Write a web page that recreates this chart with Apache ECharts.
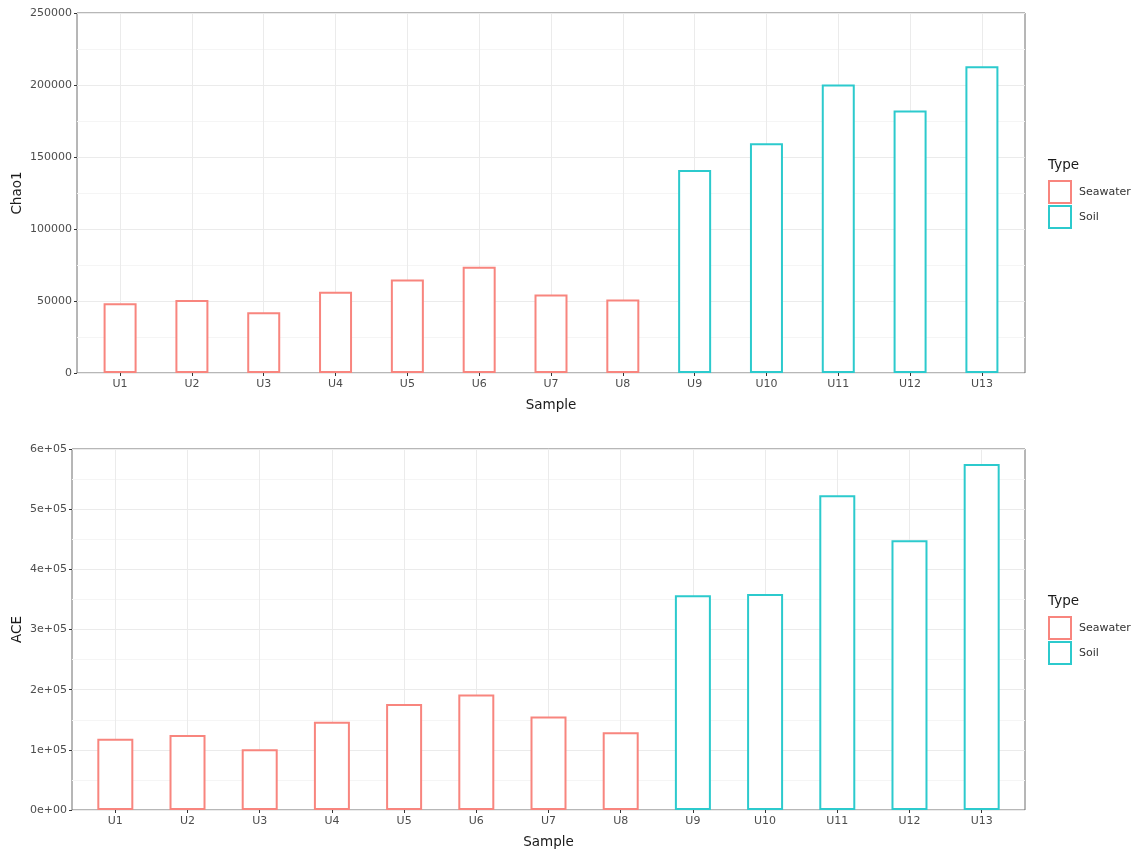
<!DOCTYPE html>
<html>
<head>
<meta charset="utf-8">
<script src="https://cdn.jsdelivr.net/npm/echarts@6/dist/echarts.min.js"></script>
<style>html,body{margin:0;padding:0;background:#fff;}#c{width:1140px;height:849px;}</style>
</head>
<body>
<div id="c"></div>
<script>
const categories = ['U1','U2','U3','U4','U5','U6','U7','U8','U9','U10','U11','U12','U13'];
const types = ['Seawater','Seawater','Seawater','Seawater','Seawater','Seawater','Seawater','Seawater','Soil','Soil','Soil','Soil','Soil'];
const chao1 = [48500, 50700, 42200, 56500, 65000, 73800, 54600, 51100, 141000, 159500, 200400, 182300, 213100];
const ace = [118500, 124600, 100900, 146800, 176200, 191900, 155200, 129300, 356800, 359000, 523000, 448200, 575000];
const aceTickLabels = ['0e+00','1e+05','2e+05','3e+05','4e+05','5e+05','6e+05'];
const typeNames = ['Seawater','Soil'];
const typeColors = {Seawater:'#F8857E', Soil:'#2CCACD'};

const FONT = 'DejaVu Sans, Liberation Sans, sans-serif';
const labelStyle = {color:'#4D4D4D', fontSize:11, fontFamily:FONT};
const nameStyle = {color:'#1a1a1a', fontSize:13.5, fontFamily:FONT};

// panels: [left, top, width, height]
const panels = [[77, 13, 948, 360], [72, 449, 953, 361]];
// ggplot-style discrete expansion (0.6 units each side)
function innerGrid(p){
  const unit = p[2] / (categories.length - 1 + 1.2);
  return {left: p[0] + 0.6*unit, top: p[1], width: unit*(categories.length-1), height: p[3],
          show:false, containLabel:false, outerBoundsMode:'none'};
}
function outerGrid(p){
  return {left:p[0], top:p[1], width:p[2], height:p[3], show:true, borderColor:'#6e6e6e', borderWidth:1,
          containLabel:false, outerBoundsMode:'none'};
}

function seriesFor(values, type, axisIdx, bw){
  const data = [];
  values.forEach((v,i)=>{ data.push(types[i]===type ? v : '-'); });
  return {
    name: type, type:'bar', xAxisIndex: axisIdx, yAxisIndex: axisIdx,
    data: data, barWidth: bw, barGap:'-100%', clip:false,
    itemStyle:{color:'#ffffff', borderColor:typeColors[type], borderWidth:2},
    emphasis:{disabled:true}
  };
}

const grids = [outerGrid(panels[0]), innerGrid(panels[0]), outerGrid(panels[1]), innerGrid(panels[1])];

function hiddenX(g){
  return {type:'value', gridIndex:g, min:0, max:1, show:false, splitLine:{show:false}};
}
function catX(g){
  return {
    type:'category', gridIndex:g, data:categories, boundaryGap:false,
    name:'Sample', nameLocation:'middle', nameGap:25, nameTextStyle:nameStyle,
    axisLine:{show:false},
    axisTick:{show:true, length:3, lineStyle:{color:'#333'}, interval:0},
    axisLabel:Object.assign({margin:6, interval:0}, labelStyle),
    splitLine:{show:true, interval:0, lineStyle:{color:'#EBEBEB', width:1}}
  };
}
function visY(g, max, interval, name, gap, fmt){
  return {type:'value', gridIndex:g, min:0, max:max, interval:interval,
    name:name, nameLocation:'middle', nameGap:gap, nameMoveOverlap:false, nameTextStyle:nameStyle,
    axisLine:{show:false}, axisTick:{show:true, length:3, lineStyle:{color:'#333'}},
    axisLabel:Object.assign({margin:5, formatter:fmt}, labelStyle),
    splitLine:{show:true, lineStyle:{color:'#EBEBEB'}},
    minorTick:{show:false, splitNumber:2},
    minorSplitLine:{show:true, lineStyle:{color:'#F5F5F5'}}};
}
function hidY(g, max, interval){
  return {type:'value', gridIndex:g, min:0, max:max, interval:interval, show:false, splitLine:{show:false}};
}

const legendText = Object.assign({}, labelStyle, {color:'#333', padding:[0,0,0,3]});
const option = {
  animation:false,
  backgroundColor:'#ffffff',
  grid: grids,
  xAxis:[hiddenX(0), catX(1), hiddenX(2), catX(3)],
  yAxis:[
    visY(0, 250000, 50000, 'Chao1', 53, (v)=>String(v)),
    hidY(1, 250000, 50000),
    visY(2, 600000, 100000, 'ACE', 48, (v)=>aceTickLabels[Math.round(v/100000)]),
    hidY(3, 600000, 100000)
  ],
  legend:[
    {orient:'vertical', left:1048, top:180, padding:0, itemWidth:22, itemHeight:22, itemGap:1, icon:'rect',
     data:typeNames, textStyle:legendText, selectedMode:false},
    {orient:'vertical', left:1048, top:616, padding:0, itemWidth:22, itemHeight:22, itemGap:1, icon:'rect',
     data:typeNames, textStyle:legendText, selectedMode:false}
  ],
  title:[
    {text:'Type', left:1043, top:153, textStyle:Object.assign({}, nameStyle, {fontWeight:'normal'})},
    {text:'Type', left:1043, top:589, textStyle:Object.assign({}, nameStyle, {fontWeight:'normal'})}
  ],
  series:[
    seriesFor(chao1,'Seawater',1,33), seriesFor(chao1,'Soil',1,33),
    seriesFor(ace,'Seawater',3,36), seriesFor(ace,'Soil',3,36)
  ]
};
const chart = echarts.init(document.getElementById('c'), null, {renderer:'canvas'});
chart.setOption(option);
</script>
</body>
</html>
